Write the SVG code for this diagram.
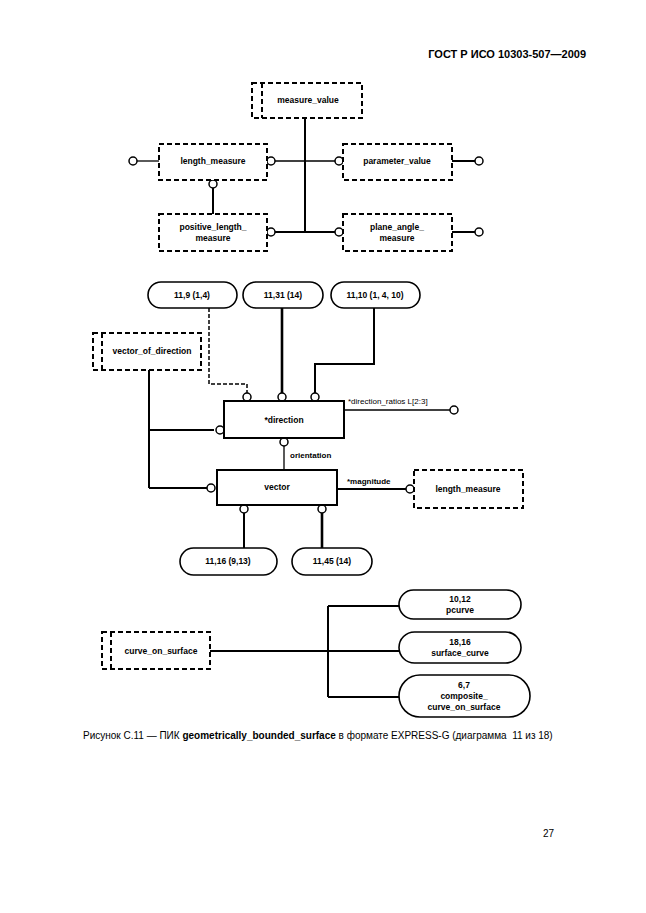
<svg xmlns="http://www.w3.org/2000/svg" width="646" height="913" viewBox="0 0 646 913">
<style>
text{font-family:"Liberation Sans",Arial,sans-serif;fill:#000}
.t{font-size:8.5px;font-weight:bold;text-anchor:middle}
.l{font-size:8px;font-weight:bold}
.d{fill:#fff;stroke:#000;stroke-width:2;stroke-dasharray:5 3}
.e{fill:#fff;stroke:#000;stroke-width:2}
.p{fill:#fff;stroke:#000;stroke-width:1.6}
.c{fill:#fff;stroke:#000;stroke-width:1.5}
.w1{fill:none;stroke:#000;stroke-width:1.3}
.w2{fill:none;stroke:#000;stroke-width:2}
.w3{fill:none;stroke:#000;stroke-width:2.6}
.dl{fill:none;stroke:#000;stroke-width:1.5;stroke-dasharray:4 2}
</style>
<rect width="646" height="913" fill="#fff"/>
<text x="586" y="58" style="font-size:11px;font-weight:bold;text-anchor:end">ГОСТ Р ИСО 10303-507—2009</text>

<g id="connectors">
<line class="w2" x1="305" y1="118" x2="305" y2="232"/>
<line class="w1" x1="275" y1="161" x2="335" y2="161"/>
<line class="w2" x1="275" y1="232" x2="335" y2="232"/>
<line class="w1" x1="137" y1="161" x2="159" y2="161"/>
<line class="w2" x1="213" y1="188" x2="213" y2="214"/>
<line class="w2" x1="452" y1="161" x2="475" y2="161"/>
<line class="w2" x1="452" y1="232" x2="475" y2="232"/>
<polyline class="dl" points="209,308 209,384 247,384 247,393"/>
<line class="w3" x1="282" y1="308" x2="282" y2="393"/>
<polyline class="w2" points="374,308 374,364 315,364 315,393"/>
<line class="w2" x1="149" y1="370" x2="149" y2="488"/>
<line class="w2" x1="149" y1="430" x2="214" y2="430"/>
<line class="w2" x1="149" y1="488" x2="207" y2="488"/>
<line class="w1" x1="344" y1="410" x2="450" y2="410"/>
<line class="w1" x1="284" y1="446" x2="284" y2="470"/>
<line class="w2" x1="244" y1="513" x2="244" y2="548"/>
<line class="w3" x1="322" y1="513" x2="322" y2="548"/>
<line class="w2" x1="337" y1="489" x2="406" y2="489"/>
<line class="w2" x1="210" y1="651" x2="399" y2="651"/>
<line class="w2" x1="328" y1="606" x2="328" y2="697"/>
<line class="w2" x1="328" y1="606" x2="399" y2="606"/>
<line class="w2" x1="328" y1="697" x2="399" y2="697"/>
<circle class="c" cx="133" cy="161" r="4"/>
<circle class="c" cx="271" cy="161" r="4"/>
<circle class="c" cx="213" cy="184" r="4"/>
<circle class="c" cx="271" cy="232" r="4"/>
<circle class="c" cx="339" cy="161" r="4"/>
<circle class="c" cx="339" cy="232" r="4"/>
<circle class="c" cx="479" cy="161" r="4"/>
<circle class="c" cx="479" cy="232" r="4"/>
<circle class="c" cx="247" cy="397" r="4"/>
<circle class="c" cx="282" cy="397" r="4"/>
<circle class="c" cx="315" cy="397" r="4"/>
<circle class="c" cx="220" cy="430" r="4"/>
<circle class="c" cx="454" cy="410" r="4"/>
<circle class="c" cx="284" cy="442" r="4"/>
<circle class="c" cx="211" cy="488" r="4"/>
<circle class="c" cx="244" cy="509" r="4"/>
<circle class="c" cx="322" cy="509" r="4"/>
<circle class="c" cx="410" cy="489" r="4"/>
</g>

<g id="measure_value">
<rect class="d" x="252" y="83" width="110" height="35"/>
<line class="d" x1="262" y1="83" x2="262" y2="118"/>
<text class="t" x="308" y="103">measure_value</text>
</g>
<g id="length_measure_top">
<rect class="d" x="159" y="144" width="108" height="36"/>
<text class="t" x="213" y="164">length_measure</text>
</g>
<g id="parameter_value">
<rect class="d" x="343" y="144" width="109" height="36"/>
<text class="t" x="397" y="164">parameter_value</text>
</g>
<g id="positive_length_measure">
<rect class="d" x="159" y="214" width="108" height="37"/>
<text class="t" x="213" y="230">positive_length_</text>
<text class="t" x="213" y="241">measure</text>
</g>
<g id="plane_angle_measure">
<rect class="d" x="343" y="214" width="109" height="37"/>
<text class="t" x="397" y="230">plane_angle_</text>
<text class="t" x="397" y="241">measure</text>
</g>

<g id="ref_11_9">
<rect class="p" x="148" y="282" width="89" height="26" rx="13"/>
<text class="t" x="192" y="298">11,9 (1,4)</text>
</g>
<g id="ref_11_31">
<rect class="p" x="243" y="282" width="80" height="26" rx="13"/>
<text class="t" x="283" y="298">11,31 (14)</text>
</g>
<g id="ref_11_10">
<rect class="p" x="331" y="282" width="89" height="26" rx="13"/>
<text class="t" x="375" y="298">11,10 (1, 4, 10)</text>
</g>
<g id="vector_of_direction">
<rect class="d" x="93" y="333" width="108" height="37"/>
<line class="d" x1="102" y1="333" x2="102" y2="370"/>
<text class="t" x="152" y="354">vector_of_direction</text>
</g>
<g id="direction">
<rect class="e" x="224" y="401" width="120" height="37"/>
<text class="t" x="284" y="423">*direction</text>
</g>
<text x="348" y="404" style="font-size:8px">*direction_ratios L[2:3]</text>
<text class="l" x="290" y="458">orientation</text>
<g id="vector">
<rect class="e" x="217" y="470" width="120" height="35"/>
<text class="t" x="277" y="490">vector</text>
</g>
<text class="l" x="347" y="484">*magnitude</text>
<g id="length_measure_mid">
<rect class="d" x="414" y="470" width="109" height="38"/>
<text class="t" x="468" y="492">length_measure</text>
</g>
<g id="ref_11_16">
<rect class="p" x="180" y="548" width="97" height="27" rx="13.5"/>
<text class="t" x="228" y="564">11,16 (9,13)</text>
</g>
<g id="ref_11_45">
<rect class="p" x="292" y="548" width="80" height="27" rx="13.5"/>
<text class="t" x="332" y="564">11,45 (14)</text>
</g>

<g id="curve_on_surface">
<rect class="d" x="102" y="632" width="108" height="37"/>
<line class="d" x1="111" y1="632" x2="111" y2="669"/>
<text class="t" x="161" y="654">curve_on_surface</text>
</g>
<g id="ref_pcurve">
<rect class="p" x="399" y="590" width="122" height="29" rx="14.5"/>
<text class="t" x="460" y="602">10,12</text>
<text class="t" x="460" y="613">pcurve</text>
</g>
<g id="ref_surface_curve">
<rect class="p" x="399" y="632" width="122" height="31" rx="15.5"/>
<text class="t" x="460" y="645">18,16</text>
<text class="t" x="460" y="656">surface_curve</text>
</g>
<g id="ref_composite">
<rect class="p" x="399" y="675" width="131" height="42" rx="21"/>
<text class="t" x="464" y="688">6,7</text>
<text class="t" x="464" y="699">composite_</text>
<text class="t" x="464" y="710">curve_on_surface</text>
</g>

<text x="83" y="739" style="font-size:10px">Рисунок C.11 — ПИК <tspan font-weight="bold">geometrically_bounded_surface</tspan> в формате EXPRESS-G (диаграмма&#160; 11 из 18)</text>
<text x="554" y="837" style="font-size:10px;text-anchor:end">27</text>
</svg>
